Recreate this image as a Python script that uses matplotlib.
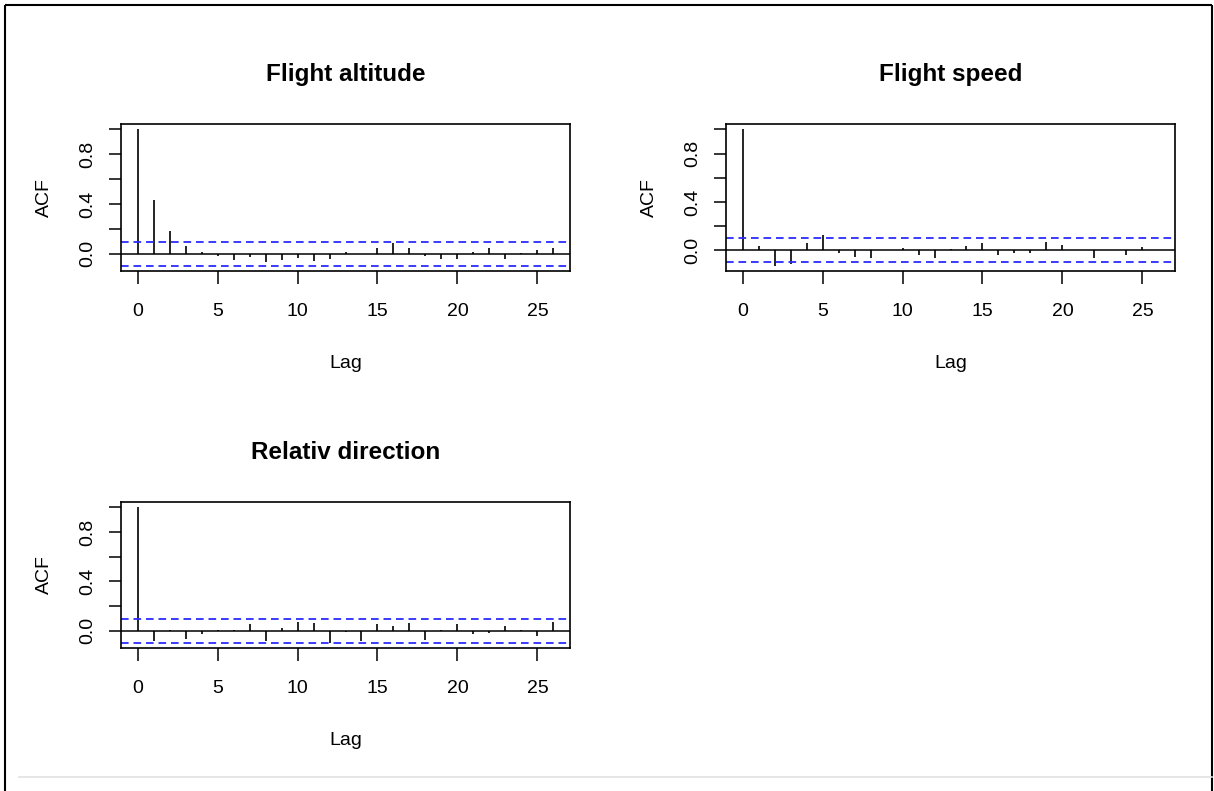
import matplotlib
matplotlib.use("Agg")
import matplotlib.pyplot as plt
from matplotlib.lines import Line2D

plt.rcParams["font.family"] = ["Liberation Sans", "DejaVu Sans"]
plt.rcParams["lines.scale_dashes"] = False

# Lags shown in each autocorrelation panel
lags = list(range(27))

# Sample autocorrelations per lag
altitude_acf = [1.0, 0.432, 0.180, 0.062, 0.014, -0.016, -0.046, -0.024, -0.062,
                -0.046, -0.032, -0.057, -0.043, 0.015, 0.002, 0.043, 0.086, 0.043,
                -0.016, -0.043, -0.043, 0.016, 0.049, -0.043, 0.003, 0.030, 0.049]
speed_acf = [1.0, 0.038, -0.126, -0.115, 0.060, 0.124, -0.025, -0.052, -0.066,
             0.002, 0.022, -0.036, -0.060, 0.014, 0.036, 0.060, -0.036, -0.025,
             -0.025, 0.069, 0.047, 0.001, -0.066, 0.003, -0.036, 0.025, 0.002]
direction_acf = [1.0, -0.084, 0.005, -0.065, -0.030, 0.008, 0.008, 0.051, -0.084,
                 0.019, 0.067, 0.065, -0.097, -0.008, -0.081, 0.054, 0.035, 0.062,
                 -0.075, 0.002, 0.054, -0.027, -0.022, 0.038, 0.002, -0.040, 0.073]

# 95% confidence bounds (white-noise band)
altitude_ci = 0.0946
speed_ci = 0.099
direction_ci = 0.097

titles = ["Flight altitude", "Flight speed", "Relativ direction"]
x_ticks = [0, 5, 10, 15, 20, 25]
y_ticks = [0.0, 0.2, 0.4, 0.6, 0.8, 1.0]
y_ticklabels = ["0.0", "", "0.4", "", "0.8", ""]

W, H = 1214, 791
fig = plt.figure(figsize=(W / 100, H / 100), dpi=100)


def px_axes(left, top, right, bottom):
    return fig.add_axes([left / W, 1 - bottom / H, (right - left) / W, (bottom - top) / H])


panels = [
    (px_axes(121, 124, 570, 271), altitude_acf, altitude_ci, titles[0]),
    (px_axes(726, 124, 1175, 271), speed_acf, speed_ci, titles[1]),
    (px_axes(121, 502, 570, 648), direction_acf, direction_ci, titles[2]),
]

for ax, acf, ci, title in panels:
    ax.vlines(lags, 0, acf, color="black", lw=1.2)
    ax.axhline(0, color="black", lw=1.1)
    for level in (ci, -ci):
        ax.axhline(level, color="#2b2bff", lw=1.3, dashes=(5.5, 3.5))
    span = max(lags) - min(lags)
    ax.set_xlim(min(lags) - 0.04 * span, max(lags) + 0.04 * span)
    lo = min(-ci, min(acf))
    hi = max(ci, max(acf))
    ax.set_ylim(lo - 0.04 * (hi - lo), hi + 0.04 * (hi - lo))
    ax.set_xticks(x_ticks)
    ax.set_yticks(y_ticks)
    ax.set_yticklabels(y_ticklabels, rotation=90, va="center")
    ax.tick_params(axis="both", direction="out", length=9, width=1.1,
                   labelsize=14, color="black")
    ax.tick_params(axis="x", pad=14)
    ax.tick_params(axis="y", pad=8.5)
    for sp in ax.spines.values():
        sp.set_linewidth(1.2)
    ax.set_xlabel("Lag", fontsize=14, labelpad=25)
    ax.set_ylabel("ACF", fontsize=14, labelpad=19)
    ax.set_title(title, fontsize=17.5, fontweight="bold", pad=31)

# Outer frame (top, left, right) and faint bottom rule
frame = dict(color="black", lw=1.5, transform=fig.transFigure, solid_capstyle="butt")
fig.add_artist(Line2D([5 / W, 1212 / W], [1 - 5 / H, 1 - 5 / H], **frame))
fig.add_artist(Line2D([5 / W, 5 / W], [0, 1 - 5 / H], **frame))
fig.add_artist(Line2D([1212 / W, 1212 / W], [0, 1 - 5 / H], **frame))
fig.add_artist(Line2D([19 / W, 1212 / W], [1 - 777 / H, 1 - 777 / H],
                      color="#e2e2e2", lw=1.2, transform=fig.transFigure))

fig.savefig("out.png", dpi=100)
